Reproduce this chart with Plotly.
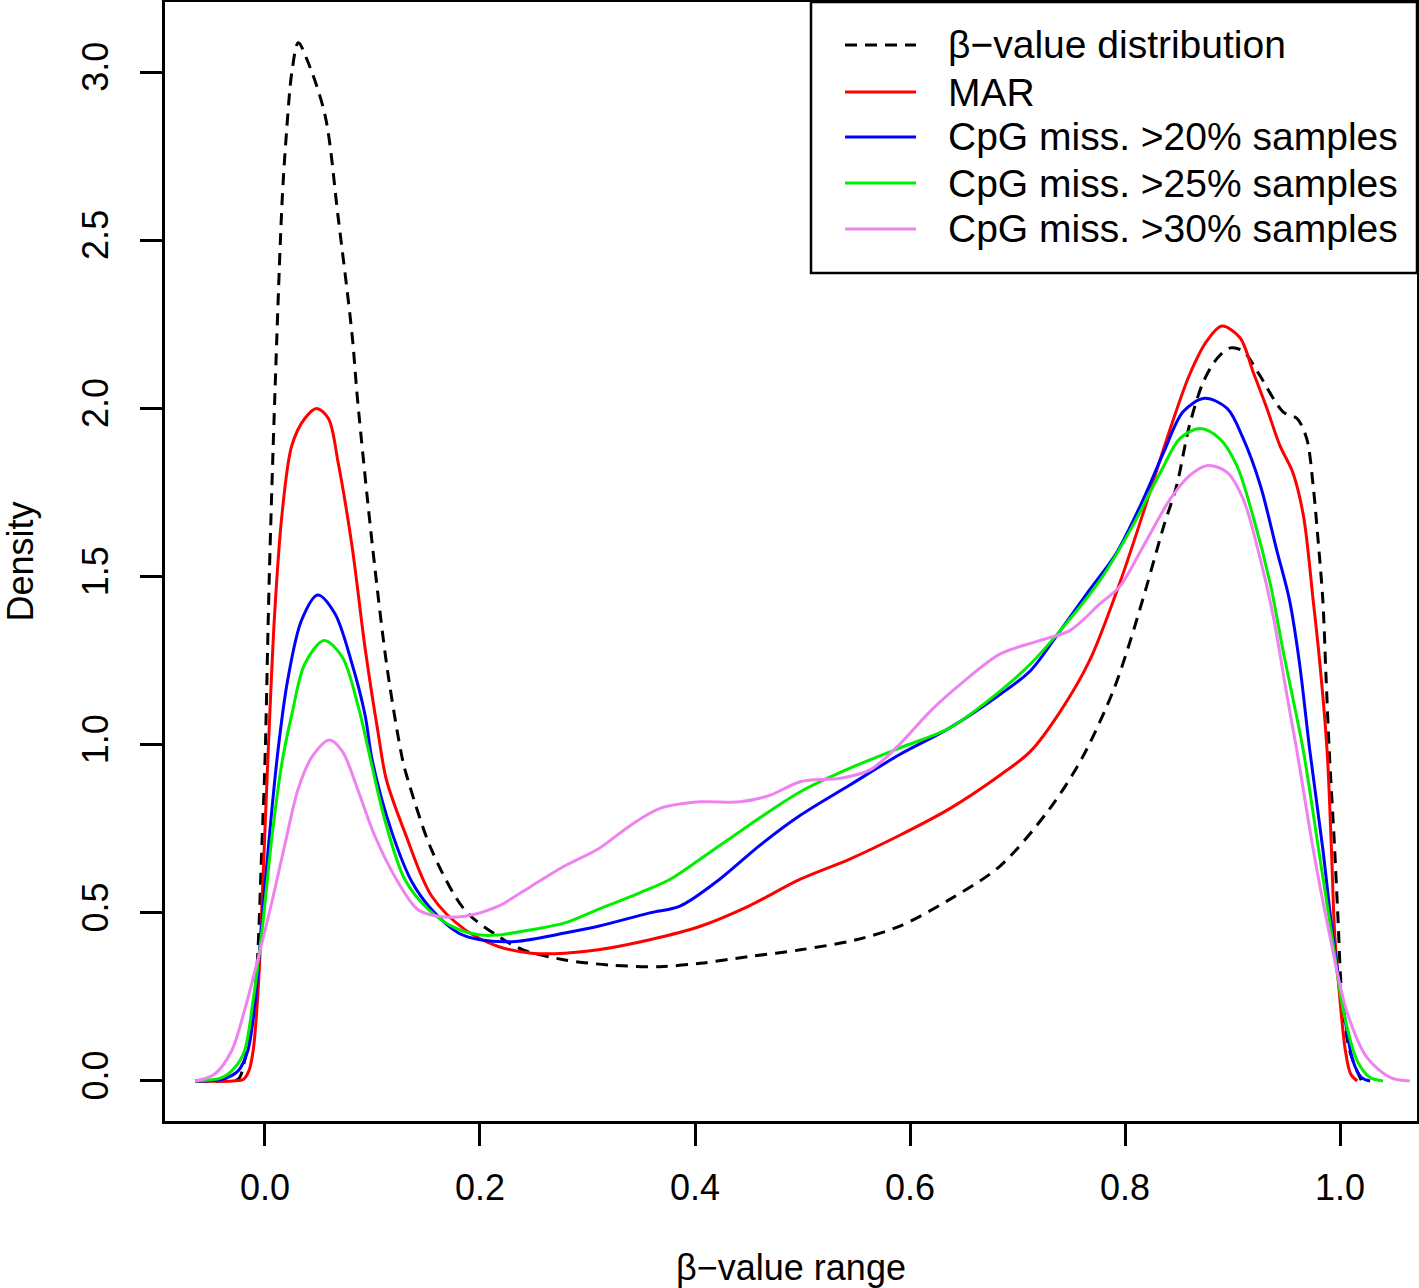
import plotly.graph_objects as go

# ---------------- data ----------------
beta_x = [-0.065, -0.04, -0.025, -0.019, -0.012, -0.0074, -0.003, 0.0, 0.004, 0.0093, 0.016, 0.02, 0.025,
          0.031, 0.04, 0.056, 0.068, 0.081, 0.086, 0.10, 0.114, 0.128, 0.133, 0.155, 0.186, 0.217, 0.24,
          0.279, 0.32, 0.367, 0.405, 0.45, 0.498, 0.55, 0.59, 0.637, 0.684, 0.73, 0.76, 0.789, 0.805, 0.82,
          0.836, 0.848, 0.86, 0.873, 0.886, 0.898, 0.91, 0.925, 0.947, 0.96, 0.969, 0.975, 0.979, 0.984,
          0.987, 0.99, 0.995, 0.998, 1.002, 1.009, 1.02]
beta_y = [0.0, 0.0, 0.005, 0.06, 0.19, 0.34, 0.69, 0.95, 1.5, 2.05, 2.62, 2.82, 3.0,
          3.087, 3.03, 2.87, 2.57, 2.22, 2.03, 1.59, 1.22, 0.955, 0.895, 0.687, 0.508, 0.43, 0.39,
          0.36, 0.345, 0.34, 0.35, 0.37, 0.39, 0.42, 0.46, 0.54, 0.64, 0.81, 0.96, 1.16, 1.31, 1.47,
          1.65, 1.77, 1.95, 2.08, 2.15, 2.18, 2.17, 2.1, 1.99, 1.97, 1.91, 1.77, 1.63, 1.43,
          1.2, 0.98, 0.69, 0.49, 0.24, 0.09, 0.0]

mar_x = [-0.065, -0.03, -0.02, -0.015, -0.011, -0.006, -0.002, 0.003, 0.009, 0.016, 0.025, 0.037, 0.048,
         0.059, 0.068, 0.081, 0.093, 0.105, 0.113, 0.13, 0.155, 0.186, 0.217, 0.248, 0.279, 0.31, 0.358,
         0.405, 0.45, 0.498, 0.544, 0.59, 0.637, 0.684, 0.712, 0.74, 0.767, 0.795, 0.817, 0.839, 0.86,
         0.876, 0.89, 0.907, 0.919, 0.932, 0.944, 0.956, 0.966, 0.975, 0.981, 0.988, 0.992, 0.995, 1.0,
         1.005, 1.01, 1.016]
mar_y = [0.0, 0.0, 0.005, 0.03, 0.09, 0.29, 0.59, 0.98, 1.39, 1.69, 1.89, 1.97, 2.0,
         1.97, 1.84, 1.59, 1.29, 1.04, 0.895, 0.74, 0.55, 0.45, 0.40, 0.38, 0.38, 0.39, 0.42,
         0.46, 0.52, 0.60, 0.66, 0.73, 0.81, 0.91, 0.98, 1.10, 1.25, 1.48, 1.69, 1.91, 2.1,
         2.2, 2.245, 2.21, 2.11, 2.0, 1.89, 1.81, 1.68, 1.43, 1.25, 0.98, 0.69, 0.44, 0.24,
         0.09, 0.02, 0.0]

miss20_x = [-0.065, -0.04, -0.025, -0.016, -0.009, -0.005, 0.003, 0.012, 0.021, 0.034, 0.049, 0.065,
            0.081, 0.093, 0.1, 0.118, 0.137, 0.155, 0.18, 0.2, 0.233, 0.279, 0.31, 0.358, 0.386, 0.423,
            0.46, 0.498, 0.544, 0.59, 0.637, 0.684, 0.712, 0.74, 0.767, 0.792, 0.817, 0.836, 0.854,
            0.874, 0.895, 0.91, 0.926, 0.941, 0.953, 0.962, 0.972, 0.984, 0.993, 1.002, 1.012, 1.02, 1.028]
miss20_y = [0.0, 0.005, 0.03, 0.09, 0.24, 0.39, 0.69, 0.98, 1.19, 1.37, 1.445, 1.39,
            1.24, 1.09, 0.95, 0.74, 0.59, 0.51, 0.44, 0.42, 0.415, 0.44, 0.46, 0.50, 0.52, 0.60,
            0.70, 0.79, 0.88, 0.97, 1.05, 1.15, 1.22, 1.34, 1.46, 1.57, 1.73, 1.87, 1.99,
            2.03, 2.0, 1.91, 1.77, 1.58, 1.43, 1.25, 0.98, 0.69, 0.44, 0.24, 0.06, 0.01, 0.0]

miss25_x = [-0.065, -0.04, -0.028, -0.019, -0.011, -0.003, 0.007, 0.016, 0.025, 0.037, 0.055, 0.072,
            0.087, 0.1, 0.112, 0.13, 0.152, 0.177, 0.2, 0.217, 0.248, 0.279, 0.31, 0.349, 0.377, 0.405,
            0.45, 0.498, 0.544, 0.59, 0.637, 0.684, 0.712, 0.74, 0.777, 0.807, 0.833, 0.851, 0.87,
            0.888, 0.904, 0.919, 0.935, 0.947, 0.956, 0.966, 0.98, 0.993, 1.003, 1.016, 1.028, 1.04]
miss25_y = [0.0, 0.01, 0.04, 0.09, 0.24, 0.44, 0.74, 0.95, 1.09, 1.24, 1.31, 1.26,
            1.11, 0.93, 0.77, 0.60, 0.51, 0.455, 0.434, 0.434, 0.45, 0.47, 0.51, 0.56, 0.60, 0.66,
            0.76, 0.86, 0.93, 0.99, 1.05, 1.16, 1.24, 1.34, 1.49, 1.65, 1.81, 1.91, 1.94,
            1.91, 1.83, 1.68, 1.48, 1.28, 1.14, 0.98, 0.69, 0.42, 0.21, 0.06, 0.01, 0.0]

miss30_x = [-0.065, -0.047, -0.031, -0.019, -0.006, 0.007, 0.019, 0.031, 0.044, 0.06, 0.072, 0.087,
            0.102, 0.124, 0.142, 0.161, 0.186, 0.217, 0.248, 0.279, 0.31, 0.34, 0.367, 0.405, 0.442,
            0.47, 0.498, 0.535, 0.563, 0.59, 0.619, 0.647, 0.684, 0.721, 0.749, 0.777, 0.795, 0.817,
            0.842, 0.86, 0.877, 0.895, 0.91, 0.926, 0.938, 0.951, 0.96, 0.975, 0.99, 1.006, 1.025,
            1.047, 1.065]
miss30_y = [0.0, 0.02, 0.09, 0.21, 0.37, 0.54, 0.71, 0.87, 0.965, 1.014, 0.98, 0.86,
            0.73, 0.59, 0.51, 0.49, 0.49, 0.52, 0.58, 0.64, 0.69, 0.76, 0.81, 0.83, 0.83,
            0.85, 0.89, 0.90, 0.925, 1.0, 1.10, 1.18, 1.27, 1.31, 1.34, 1.42, 1.47, 1.59,
            1.73, 1.80, 1.83, 1.81, 1.73, 1.55, 1.38, 1.14, 0.98, 0.69, 0.44, 0.21, 0.07,
            0.01, 0.0]

series_names = ["\u03b2\u2212value distribution", "MAR", "CpG miss. >20% samples",
                "CpG miss. >25% samples", "CpG miss. >30% samples"]
series_x = [beta_x, mar_x, miss20_x, miss25_x, miss30_x]
series_y = [beta_y, mar_y, miss20_y, miss25_y, miss30_y]

x_ticks = [0.0, 0.2, 0.4, 0.6, 0.8, 1.0]
x_tick_labels = ["0.0", "0.2", "0.4", "0.6", "0.8", "1.0"]
y_ticks = [0.0, 0.5, 1.0, 1.5, 2.0, 2.5, 3.0]
y_tick_labels = ["0.0", "0.5", "1.0", "1.5", "2.0", "2.5", "3.0"]

# ---------------- styles ----------------
colors = ["black", "#FF0000", "#0000FF", "#00EE00", "#EE82EE"]
dashes = ["12px,8px", "solid", "solid", "solid", "solid"]
FONT = "Liberation Sans, Arial, Helvetica, sans-serif"
W, H = 1419, 1288
ML, MR, MT, MB = 165, 2, 2, 167

fig = go.Figure()
for xs, ys, name, c, d in zip(series_x, series_y, series_names, colors, dashes):
    fig.add_trace(go.Scatter(
        x=xs, y=ys, mode="lines", name=name, showlegend=False,
        line=dict(color=c, width=3, dash=d, shape="spline", smoothing=0.9),
    ))

# ---- legend drawn as a boxed key (R style) ----
pw, ph = W - ML - MR, H - MT - MB
def px2paper_x(px):
    return (px - ML) / pw
def px2paper_y(py):
    return (H - MB - py) / ph

leg_left, leg_bottom = 811, 273
fig.add_shape(type="rect", xref="paper", yref="paper",
              x0=px2paper_x(leg_left), x1=1.0, y0=px2paper_y(leg_bottom), y1=1.0,
              line=dict(color="black", width=2.5), fillcolor="white", layer="above")
row_y = [45, 92, 137, 183, 229]
for name, c, d, ry in zip(series_names, colors, dashes, row_y):
    yy = px2paper_y(ry)
    fig.add_shape(type="line", xref="paper", yref="paper",
                  x0=px2paper_x(845), x1=px2paper_x(916), y0=yy, y1=yy,
                  line=dict(color=c, width=3, dash=d), layer="above")
    fig.add_annotation(xref="paper", yref="paper", x=px2paper_x(946), y=yy,
                       text=name, showarrow=False, xanchor="left", yanchor="middle",
                       font=dict(family=FONT, size=39, color="black"))

axis_common = dict(
    showline=True, mirror=True, linecolor="black", linewidth=2.5,
    ticks="outside", ticklen=22, tickwidth=2.5, tickcolor="black",
    showgrid=False, zeroline=False, automargin=False,
    tickfont=dict(family=FONT, size=36, color="black"),
)

fig.update_layout(
    width=W, height=H,
    margin=dict(l=ML, r=MR, t=MT, b=MB, autoexpand=False),
    paper_bgcolor="white", plot_bgcolor="white",
    font=dict(family=FONT, size=36, color="black"),
    xaxis=dict(range=[-0.093, 1.0716], tickmode="array", tickvals=x_ticks, ticktext=x_tick_labels,
               ticklabelstandoff=11,
               title=dict(text="\u03b2\u2212value range", font=dict(family=FONT, size=36), standoff=57),
               **axis_common),
    yaxis=dict(range=[-0.119, 3.2085], tickmode="array", tickvals=y_ticks, ticktext=y_tick_labels,
               tickangle=-90, ticklabelstandoff=18,
               title=dict(text="Density", font=dict(family=FONT, size=36), standoff=55),
               **axis_common),
)

fig.write_html("out.html", config={"displayModeBar": False},
               post_script="document.body.style.margin='0px';")
